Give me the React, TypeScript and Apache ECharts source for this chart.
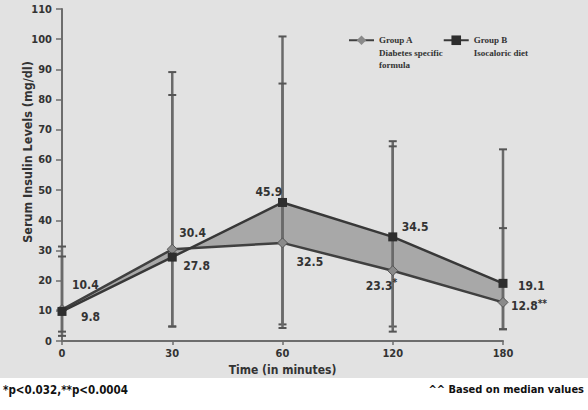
import { useEffect, useRef } from "react";
import * as echarts from "echarts";

const times = ["0", "30", "60", "120", "180"];
const groupA = [10.4, 30.4, 32.5, 23.3, 12.8];
const groupB = [9.8, 27.8, 45.9, 34.5, 19.1];
const labelsA = ["10.4", "30.4", "32.5", "23.3*", "12.8**"];
const labelsB = ["9.8", "27.8", "45.9", "34.5", "19.1"];
// error bar ranges [low, high]
const rangeA = [[1.7, 31.3], [4.8, 89.1], [5.5, 100.9], [4.8, 66.2], [3.9, 63.5]];
const rangeB = [[3.1, 28], [4.8, 81.5], [4.3, 85.3], [3.1, 64.5], [3.9, 37.4]];

const FONT = "'DejaVu Sans Condensed', 'DejaVu Sans', sans-serif";
const SERIF = "'Liberation Serif', 'DejaVu Serif', serif";

// label offsets (px) from each point, left-aligned text
const offA = [[10, -25], [7, -16], [14, 19], [-27, 15], [8, 4]];
const offB = [[19, 6], [11, 9], [-27, -10], [9, -10], [15, 3]];

const fmt = (s: string) => {
    const m = s.match(/^([^*]*)(\**)$/);
    if (!m || !m[2]) return `{v|${s}}`;
    return `{v|${m[1]}}{s|${m[2]}}`;
};

const labelRich = {
    v: { fontFamily: FONT, fontWeight: "bold", fontSize: 12, color: "#333", lineHeight: 16 },
    s: { fontFamily: FONT, fontWeight: "bold", fontSize: 10, color: "#333", lineHeight: 10, verticalAlign: "top" },
};

const errorBars = (name: string, ranges: number[][]) => ({
    type: "custom",
    name,
    silent: true,
    z: 3,
    encode: { x: 0, y: [1, 2] },
    data: ranges.map((r, i) => [i, r[0], r[1]]),
    renderItem: (params: any, api: any) => {
        const x = api.value(0);
        const lo = api.coord([x, api.value(1)]);
        const hi = api.coord([x, api.value(2)]);
        const cap = 4;
        return {
            type: "group",
            children: [
                { type: "line", shape: { x1: lo[0], y1: lo[1], x2: hi[0], y2: hi[1] }, style: { stroke: "#6a6a6a", lineWidth: 2.5 } },
                { type: "line", shape: { x1: lo[0] - cap, y1: lo[1], x2: lo[0] + cap, y2: lo[1] }, style: { stroke: "#555", lineWidth: 2 } },
                { type: "line", shape: { x1: hi[0] - cap, y1: hi[1], x2: hi[0] + cap, y2: hi[1] }, style: { stroke: "#555", lineWidth: 2 } },
            ],
        };
    },
});

const App = () => {
    const chartRef = useRef<HTMLDivElement | null>(null);

    useEffect(() => {
        if (!chartRef.current) return;
        const chart = echarts.init(chartRef.current, undefined, { renderer: "svg" });
        const option = {
            animation: false,
            backgroundColor: "#ffffff",
            grid: { left: 62, right: 85, top: 9, bottom: 69 },
            legend: {
                data: ["Group A", "Group B"],
                left: 343,
                top: 4,
                itemGap: 0,
                itemWidth: 25,
                itemHeight: 12,
                itemStyle: { borderWidth: 0 },
                formatter: (name: string) =>
                    name === "Group A" ? "\n\nGroup A\nDiabetes specific\nformula" : "\nGroup B\nIsocaloric diet",
                textStyle: { fontFamily: SERIF, fontWeight: "bold", fontSize: 9, lineHeight: 12.5, color: "#333" },
            },
            graphic: [
                { type: "rect", z: -100, silent: true, shape: { x: 0, y: 0, width: 588, height: 378 }, style: { fill: "#e2e2e2" } },
                {
                    type: "text", x: 27, y: 152, rotation: Math.PI / 2,
                    style: { text: "Serum Insulin Levels (mg/dl)", fontFamily: FONT, fontWeight: "bold", fontSize: 12.5, fill: "#333", align: "center", verticalAlign: "middle" },
                },
                {
                    type: "text", x: 3, y: 390,
                    style: { text: "*p<0.032,**p<0.0004", fontFamily: FONT, fontWeight: "bold", fontSize: 11.5, fill: "#111", align: "left", verticalAlign: "middle" },
                },
                {
                    type: "text", x: 584, y: 389,
                    style: { text: "^^ Based on median values", fontFamily: FONT, fontWeight: "bold", fontSize: 11, fill: "#111", align: "right", verticalAlign: "middle" },
                },
            ],
            xAxis: {
                type: "category",
                data: times,
                boundaryGap: false,
                name: "Time (in minutes)",
                nameLocation: "middle",
                nameGap: 21,
                nameTextStyle: { fontFamily: FONT, fontWeight: "bold", fontSize: 12, color: "#333", verticalAlign: "top" },
                axisLine: { lineStyle: { color: "#6d6d6d", width: 2 } },
                axisTick: { show: true, alignWithLabel: true, length: 4, lineStyle: { color: "#6d6d6d", width: 1.5 } },
                axisLabel: { margin: 7, fontFamily: FONT, fontWeight: "bold", fontSize: 11, color: "#333" },
                splitLine: { show: false },
            },
            yAxis: {
                type: "value",
                min: 0,
                max: 110,
                interval: 10,
                axisLine: { show: true, lineStyle: { color: "#6d6d6d", width: 2 } },
                axisTick: { show: true, length: 6, lineStyle: { color: "#6d6d6d", width: 1.5 } },
                axisLabel: { margin: 10, fontFamily: FONT, fontWeight: "bold", fontSize: 11, color: "#333" },
                splitLine: { show: false },
            },
            series: [
                {
                    type: "custom",
                    name: "band",
                    silent: true,
                    z: 1,
                    encode: { x: 0, y: 1 },
                    data: [[0, 0]],
                    renderItem: (params: any, api: any) => {
                        const top = groupA.map((v, i) => api.coord([i, v]));
                        const bottom = groupB.map((v, i) => api.coord([i, v])).reverse();
                        return { type: "polygon", shape: { points: [...top, ...bottom] }, style: { fill: "#a8a8a8" } };
                    },
                },
                errorBars("errA", rangeA),
                errorBars("errB", rangeB),
                {
                    name: "Group A",
                    type: "line",
                    z: 5,
                    symbol: "diamond",
                    symbolSize: 10,
                    lineStyle: { color: "#404040", width: 2.5 },
                    itemStyle: { color: "#8a8a8a", borderColor: "#555", borderWidth: 1 },
                    data: groupA.map((v, i) => ({
                        value: v,
                        label: { offset: offA[i], formatter: fmt(labelsA[i]) },
                    })),
                    label: { show: true, position: "inside", align: "left", verticalAlign: "middle", color: "#333", rich: labelRich },
                },
                {
                    name: "Group B",
                    type: "line",
                    z: 6,
                    symbol: "rect",
                    symbolSize: 9,
                    lineStyle: { color: "#383838", width: 2.5 },
                    itemStyle: { color: "#2e2e2e" },
                    data: groupB.map((v, i) => ({
                        value: v,
                        label: { offset: offB[i], formatter: fmt(labelsB[i]) },
                    })),
                    label: { show: true, position: "inside", align: "left", verticalAlign: "middle", color: "#333", rich: labelRich },
                },
            ],
        };
        chart.setOption(option as any);
        return () => chart.dispose();
    }, []);

    return (
        <div style={{ position: "absolute", left: 0, top: 0, width: 588, height: 410 }}>
            <div ref={chartRef} style={{ width: "100%", height: "100%" }} />
        </div>
    );
};

export default App;
